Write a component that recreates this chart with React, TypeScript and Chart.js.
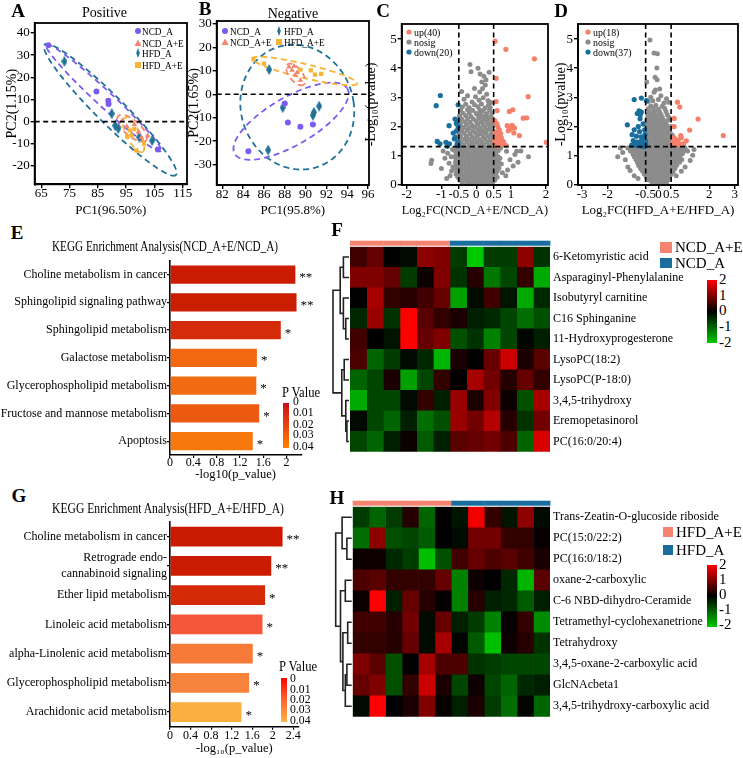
import React, { useEffect, useRef } from "react";
import { Chart, registerables } from "chart.js";

Chart.register(...registerables);

const SERIF = '"Liberation Serif", "Times New Roman", Times, serif';
Chart.defaults.font.family = SERIF;
Chart.defaults.color = "#000";

/* ============================ DATA ============================ */
// PCA positive (A)
const A_NCD = [[67.5, 34.5], [84.5, 13.6], [88.7, 9.4], [88.8, 7.9], [106.2, -12.6]];
const A_NCDE = [[93.6, 0.4], [95.2, -2.2], [97.9, -1.4], [99.3, -4.8], [100.4, -7.1], [102.6, -6.4]];
const A_HFD = [[73.2, 27.2], [89.9, 3.6], [91.1, -1.8], [92.2, -3.2], [99.6, -7.0], [104.2, -8.6]];
const A_HFDE = [[95.4, -6.8], [96.3, -4.0], [97.9, -3.4], [96.9, -6.2], [98.6, -13.0], [101.3, -10.0]];
// confidence ellipses: [cx, cy, ax, ay, bx, by]
const A_ELL_NCD = [87.05, 10.7, 20.3, -24.0, -1.9, -2.67];
const A_ELL_NCDE = [97.1, -3.0, 4.94, -5.43, -1.76, -2.71];
const A_ELL_HFD = [89.4, 5.3, 23.2, -29.4, -3.4, -4.5];
const A_ELL_HFDE = [97.6, -6.0, 3.18, -7.7, -2.1, -1.36];
const A_XTICKS = [65, 75, 85, 95, 105, 115];
const A_YTICKS = [-20, -10, 0, 10, 20, 30, 40];

// PCA negative (B)
const B_NCD = [[84.5, -24.3], [88.0, -4.0], [88.3, -12.1], [89.5, -13.9], [90.7, -12.9]];
const B_NCDE = [[88.4, 11.6], [88.7, 10.2], [89.0, 8.1], [89.5, 6.0], [88.9, 12.0], [89.2, 9.3]];
const B_HFD = [[86.5, 10.5], [87.8, -5.7], [90.8, -7.7], [90.7, -9.0], [91.3, -5.1], [86.4, -23.8]];
const B_HFDE = [[85.0, 14.8], [86.0, 13.0], [89.5, 10.5], [90.5, 10.2], [90.9, 8.3], [91.5, 8.7]];
const B_ELL_NCD = [88.6, -11.5, 5.41, 13.9, 1.16, -8.8];
const B_ELL_NCDE = [89.05, 8.4, 0.77, -4.3, -0.48, -1.7];
const B_ELL_HFD = [89.2, -5.5, 5.4, 2.5, 0.9, -26.5];
const B_ELL_HFDE = [89.9, 9.9, 5.04, -5.32, -0.15, -2.9];
const B_XTICKS = [82, 84, 86, 88, 90, 92, 94, 96];
const B_YTICKS = [-30, -20, -10, 0, 10, 20, 30];
const PCA_ZERO = [0];

// Volcano C (NCD_A+E / NCD_A)
const C_UP = [[0.54, 4.93], [0.85, 4.65], [1.67, 4.32], [0.57, 3.65], [1.49, 3.02], [0.57, 2.85], [1.05, 2.57], [0.95, 2.51], [1.35, 2.28], [1.45, 2.29], [0.6, 2.54], [0.59, 2.09], [0.89, 2.02], [1.03, 2.03], [1.1, 1.94], [0.66, 1.88], [0.92, 1.85], [1.08, 1.77], [1.24, 1.68], [0.59, 1.71], [0.66, 1.65], [0.6, 1.54], [0.69, 1.52], [0.64, 1.45], [0.81, 1.37], [0.55, 1.42], [2.01, 1.45], [0.72, 1.6], [0.56, 1.35], [0.75, 1.41], [0.63, 1.32], [0.98, 1.9], [0.7, 1.75], [0.55, 1.8], [0.53, 2.2], [0.62, 1.98], [0.78, 1.47], [0.86, 1.34], [0.58, 1.6], [0.53, 1.5]];
const C_DOWN = [[-1.03, 3.06], [-1.15, 2.71], [-0.52, 2.74], [-0.61, 2.25], [-0.55, 2.19], [-0.78, 2.02], [-0.52, 2.0], [-0.66, 1.77], [-0.63, 1.57], [-1.12, 1.48], [-1.04, 1.4], [-0.87, 1.45], [-0.77, 1.4], [-0.83, 1.31], [-0.53, 1.45], [-0.52, 1.33], [-0.57, 2.1], [-0.6, 1.62], [-0.55, 1.38], [-0.56, 1.85]];
const C_NOSIG = [
  [-0.18, 4.13], [-0.15, 3.88], [0.05, 4.0], [0.11, 3.8], [0.37, 3.86], [0.22, 3.72], [0.16, 3.52], [0.18, 3.3], [0.26, 3.42], [-0.42, 3.2], [0.1, 3.18], [0.3, 3.1], [-0.25, 3.05], [-0.02, 3.02], [0.2, 2.98], [-0.35, 2.93], [0.08, 2.9], [0.34, 2.88], [-0.12, 2.84], [0.42, 2.82], [-0.05, 3.3], [0.28, 3.6],
  [-0.3, 2.76], [-0.05, 2.74], [0.15, 2.77], [0.35, 2.72], [-0.4, 2.66], [-0.2, 2.64], [0.05, 2.67], [0.25, 2.63], [0.4, 2.65],
  [-0.45, 2.55], [-0.25, 2.57], [-0.1, 2.54], [0.1, 2.56], [0.2, 2.53], [0.38, 2.55], [-0.38, 2.45], [-0.2, 2.47], [0.0, 2.44], [0.12, 2.46], [0.3, 2.43], [0.45, 2.46],
  [-0.48, 2.35], [-0.3, 2.36], [-0.15, 2.34], [0.05, 2.37], [0.18, 2.34], [0.28, 2.36], [0.42, 2.33], [-0.42, 2.25], [-0.25, 2.26], [-0.08, 2.24], [0.08, 2.27], [0.22, 2.24], [0.35, 2.26], [0.48, 2.23],
  [-0.47, 2.15], [-0.33, 2.16], [-0.18, 2.14], [0.0, 2.17], [0.15, 2.14], [0.3, 2.16], [0.44, 2.13], [-0.45, 2.05], [-0.28, 2.06], [-0.12, 2.04], [0.04, 2.07], [0.2, 2.04], [0.35, 2.06], [0.48, 2.03],
  [-0.48, 1.95], [-0.35, 1.96], [-0.2, 1.94], [-0.05, 1.97], [0.1, 1.94], [0.25, 1.96], [0.4, 1.93], [-0.42, 1.85], [-0.26, 1.86], [-0.1, 1.84], [0.05, 1.87], [0.18, 1.84], [0.32, 1.86], [0.47, 1.83],
  [-0.5, 1.75], [-0.35, 1.76], [-0.18, 1.74], [-0.02, 1.77], [0.12, 1.74], [0.27, 1.76], [0.42, 1.73], [-0.45, 1.65], [-0.28, 1.66], [-0.12, 1.64], [0.03, 1.67], [0.2, 1.64], [0.35, 1.66], [0.49, 1.63],
  [-0.48, 1.55], [-0.33, 1.56], [-0.2, 1.54], [-0.05, 1.57], [0.1, 1.54], [0.25, 1.56], [0.4, 1.53], [-0.43, 1.45], [-0.27, 1.46], [-0.12, 1.44], [0.02, 1.47], [0.16, 1.44], [0.31, 1.46], [0.46, 1.43],
  [-0.49, 1.35], [-0.35, 1.36], [-0.2, 1.34], [-0.06, 1.37], [0.08, 1.34], [0.22, 1.36], [0.37, 1.33], [0.5, 1.36],
  [-0.56, 1.25], [-0.44, 1.26], [-0.31, 1.24], [-0.18, 1.26], [-0.05, 1.25], [0.08, 1.24], [0.2, 1.26], [0.33, 1.25], [0.46, 1.24], [0.58, 1.26],
  [-0.6, 1.15], [-0.48, 1.16], [-0.36, 1.14], [-0.23, 1.15], [-0.1, 1.16], [0.03, 1.14], [0.15, 1.15], [0.28, 1.16], [0.4, 1.14], [0.52, 1.15], [0.63, 1.16],
  [-0.57, 1.05], [-0.45, 1.04], [-0.32, 1.06], [-0.2, 1.05], [-0.07, 1.04], [0.06, 1.06], [0.18, 1.05], [0.31, 1.04], [0.44, 1.06], [0.56, 1.05],
  [-0.62, 0.95], [-0.5, 0.96], [-0.38, 0.94], [-0.25, 0.95], [-0.12, 0.96], [0.0, 0.94], [0.13, 0.95], [0.25, 0.96], [0.38, 0.94], [0.5, 0.95], [0.62, 0.96],
  [-0.58, 0.85], [-0.46, 0.84], [-0.33, 0.86], [-0.2, 0.85], [-0.08, 0.84], [0.05, 0.86], [0.18, 0.85], [0.3, 0.84], [0.43, 0.86], [0.56, 0.85],
  [-0.6, 0.75], [-0.48, 0.76], [-0.35, 0.74], [-0.22, 0.75], [-0.1, 0.76], [0.02, 0.74], [0.15, 0.75], [0.27, 0.76], [0.4, 0.74], [0.53, 0.75], [0.64, 0.76],
  [-0.57, 0.65], [-0.44, 0.64], [-0.31, 0.66], [-0.18, 0.65], [-0.06, 0.64], [0.07, 0.66], [0.2, 0.65], [0.33, 0.64], [0.46, 0.66], [0.58, 0.65],
  [-0.6, 0.55], [-0.47, 0.56], [-0.35, 0.54], [-0.22, 0.55], [-0.1, 0.56], [0.03, 0.54], [0.16, 0.55], [0.28, 0.56], [0.41, 0.54], [0.54, 0.55], [0.65, 0.56],
  [-0.56, 0.45], [-0.43, 0.44], [-0.3, 0.46], [-0.17, 0.45], [-0.05, 0.44], [0.08, 0.46], [0.21, 0.45], [0.34, 0.44], [0.47, 0.46], [0.6, 0.45],
  [-0.58, 0.35], [-0.46, 0.36], [-0.33, 0.34], [-0.2, 0.35], [-0.08, 0.36], [0.05, 0.34], [0.18, 0.35], [0.3, 0.36], [0.43, 0.34], [0.56, 0.35],
  [-0.53, 0.25], [-0.4, 0.24], [-0.27, 0.26], [-0.14, 0.25], [-0.02, 0.24], [0.1, 0.26], [0.23, 0.25], [0.36, 0.24], [0.49, 0.26], [0.6, 0.25],
  [-0.48, 0.15], [-0.36, 0.16], [-0.23, 0.14], [-0.1, 0.15], [0.02, 0.16], [0.15, 0.14], [0.28, 0.15], [0.4, 0.16], [0.53, 0.14],
  [-0.4, 0.06], [-0.27, 0.07], [-0.14, 0.05], [-0.02, 0.06], [0.1, 0.07], [0.22, 0.05], [0.35, 0.06], [0.47, 0.07],
  [-0.5, 1.2], [-0.25, 1.1], [0.1, 1.2], [0.35, 1.1], [-0.4, 0.9], [-0.15, 0.8], [0.2, 0.9], [0.45, 0.8], [-0.5, 0.6], [-0.25, 0.5], [0.1, 0.6], [0.35, 0.5], [-0.4, 0.3], [-0.1, 0.2], [0.25, 0.3], [0.5, 0.2],
  [-1.28, 0.83], [-1.3, 0.72], [-0.78, 0.73], [-0.82, 1.07], [-0.71, 0.46], [-0.9, 0.9], [-0.68, 1.2], [-0.75, 0.3], [-1.0, 0.55], [-0.72, 0.95], [-0.67, 0.6], [-0.95, 1.15], [-0.85, 0.2],
  [1.11, 1.03], [1.5, 0.95], [0.97, 0.85], [1.2, 0.76], [1.16, 1.14], [0.87, 1.14], [0.72, 0.7], [0.9, 0.5], [1.28, 1.15], [0.7, 1.25], [0.85, 0.3], [0.68, 0.9], [0.75, 0.4], [1.06, 0.63],
];
const C_XTICKS = [-2, -1, -0.5, 0, 0.5, 1, 2];
// Volcano D (HFD_A+E / HFD_A)
const D_UP = [[0.75, 2.83], [0.84, 2.66], [0.62, 2.27], [1.56, 2.25], [0.62, 1.99], [1.23, 1.87], [2.55, 1.68], [0.62, 1.6], [0.88, 1.68], [0.9, 1.6], [0.77, 1.53], [1.1, 1.5], [0.64, 1.42], [0.84, 1.4], [0.99, 1.4], [0.58, 1.5], [0.7, 1.35], [0.55, 1.38]];
const D_DOWN = [[-0.95, 2.92], [-0.67, 2.97], [-0.47, 2.88], [-0.76, 2.53], [-0.67, 2.49], [-0.83, 2.44], [-0.71, 2.4], [-1.22, 2.05], [-0.72, 2.26], [-0.6, 2.08], [-0.79, 1.99], [-0.95, 1.88], [-0.74, 1.82], [-0.54, 1.88], [-1.03, 1.71], [-0.86, 1.66], [-0.67, 1.64], [-0.53, 1.71], [-0.99, 1.51], [-0.83, 1.46], [-0.67, 1.5], [-0.55, 1.55], [-0.9, 1.39], [-0.76, 1.36], [-0.63, 1.38], [-0.5, 1.42], [-1.05, 1.35], [-0.7, 1.32], [-0.58, 1.33], [-0.52, 1.36], [-0.6, 1.45], [-0.85, 1.33], [-0.55, 1.3], [-0.66, 1.42], [-0.8, 1.4], [-0.62, 1.55], [-0.51, 1.5]];
const D_NOSIG = [
  [-0.33, 4.97], [-0.17, 4.52], [-0.04, 4.5], [-0.13, 3.69], [-0.06, 4.01], [-0.46, 3.52], [-0.12, 3.25], [-0.17, 3.17], [0.41, 2.83], [-0.05, 3.6], [0.05, 3.28], [-0.3, 3.0], [0.1, 3.05], [0.32, 2.95], [-0.22, 2.88], [0.22, 2.8], [-0.4, 2.85], [0.0, 2.92],
  [-0.3, 2.7], [-0.1, 2.72], [0.15, 2.69], [-0.4, 2.6], [-0.2, 2.62], [0.0, 2.59], [0.25, 2.61], [-0.35, 2.5], [-0.15, 2.52], [0.05, 2.49], [0.3, 2.51],
  [-0.42, 2.4], [-0.25, 2.42], [-0.08, 2.39], [0.1, 2.41], [0.35, 2.4], [-0.38, 2.3], [-0.2, 2.32], [-0.02, 2.29], [0.15, 2.31], [0.42, 2.3],
  [-0.45, 2.2], [-0.28, 2.22], [-0.12, 2.19], [0.05, 2.21], [0.22, 2.2], [0.4, 2.22], [-0.4, 2.1], [-0.22, 2.12], [-0.05, 2.09], [0.12, 2.11], [0.3, 2.1],
  [-0.45, 2.0], [-0.3, 2.02], [-0.15, 1.99], [0.0, 2.01], [0.17, 2.0], [0.33, 2.02], [0.5, 1.99], [-0.42, 1.9], [-0.26, 1.92], [-0.1, 1.89], [0.07, 1.91], [0.23, 1.9], [0.4, 1.92],
  [-0.48, 1.8], [-0.32, 1.82], [-0.17, 1.79], [-0.02, 1.81], [0.14, 1.8], [0.3, 1.82], [0.46, 1.79], [-0.44, 1.7], [-0.28, 1.72], [-0.12, 1.69], [0.04, 1.71], [0.2, 1.7], [0.36, 1.72], [0.55, 1.69],
  [-0.47, 1.6], [-0.32, 1.62], [-0.17, 1.59], [-0.01, 1.61], [0.15, 1.6], [0.31, 1.62], [0.47, 1.59], [-0.5, 1.5], [-0.35, 1.52], [-0.2, 1.49], [-0.05, 1.51], [0.1, 1.5], [0.26, 1.52], [0.42, 1.49], [0.56, 1.51],
  [-0.46, 1.4], [-0.3, 1.42], [-0.15, 1.39], [0.0, 1.41], [0.16, 1.4], [0.32, 1.42], [0.48, 1.39], [-0.52, 1.33], [-0.38, 1.34], [-0.22, 1.32], [-0.07, 1.34], [0.08, 1.33], [0.24, 1.34], [0.4, 1.32], [0.55, 1.34],
  [-1.2, 1.25], [-1.05, 1.26], [-0.9, 1.24], [-0.75, 1.25], [-0.6, 1.26], [-0.45, 1.24], [-0.3, 1.25], [-0.15, 1.26], [0.0, 1.24], [0.15, 1.25], [0.3, 1.26], [0.45, 1.24], [0.6, 1.25], [0.75, 1.26], [0.9, 1.24], [1.05, 1.25],
  [-1.1, 1.15], [-0.95, 1.14], [-0.8, 1.16], [-0.65, 1.15], [-0.5, 1.14], [-0.35, 1.16], [-0.2, 1.15], [-0.05, 1.14], [0.1, 1.16], [0.25, 1.15], [0.4, 1.14], [0.55, 1.16], [0.7, 1.15], [0.85, 1.14], [1.0, 1.16],
  [-1.0, 1.05], [-0.85, 1.06], [-0.7, 1.04], [-0.55, 1.05], [-0.4, 1.06], [-0.25, 1.04], [-0.1, 1.05], [0.05, 1.06], [0.2, 1.04], [0.35, 1.05], [0.5, 1.06], [0.65, 1.04], [0.8, 1.05], [0.95, 1.06],
  [-0.95, 0.95], [-0.8, 0.94], [-0.65, 0.96], [-0.5, 0.95], [-0.35, 0.94], [-0.2, 0.96], [-0.05, 0.95], [0.1, 0.94], [0.25, 0.96], [0.4, 0.95], [0.55, 0.94], [0.7, 0.96], [0.85, 0.95],
  [-0.88, 0.85], [-0.73, 0.86], [-0.58, 0.84], [-0.43, 0.85], [-0.28, 0.86], [-0.13, 0.84], [0.02, 0.85], [0.17, 0.86], [0.32, 0.84], [0.47, 0.85], [0.62, 0.86], [0.77, 0.84], [0.92, 0.85],
  [-0.82, 0.75], [-0.67, 0.74], [-0.52, 0.76], [-0.37, 0.75], [-0.22, 0.74], [-0.07, 0.76], [0.08, 0.75], [0.23, 0.74], [0.38, 0.76], [0.53, 0.75], [0.68, 0.74], [0.83, 0.76],
  [-0.78, 0.65], [-0.63, 0.66], [-0.48, 0.64], [-0.33, 0.65], [-0.18, 0.66], [-0.03, 0.64], [0.12, 0.65], [0.27, 0.66], [0.42, 0.64], [0.57, 0.65], [0.72, 0.66],
  [-0.7, 0.55], [-0.55, 0.54], [-0.4, 0.56], [-0.25, 0.55], [-0.1, 0.54], [0.05, 0.56], [0.2, 0.55], [0.35, 0.54], [0.5, 0.56], [0.65, 0.55],
  [-0.62, 0.45], [-0.47, 0.46], [-0.32, 0.44], [-0.17, 0.45], [-0.02, 0.46], [0.13, 0.44], [0.28, 0.45], [0.43, 0.46], [0.58, 0.44],
  [-0.55, 0.35], [-0.4, 0.34], [-0.25, 0.36], [-0.1, 0.35], [0.05, 0.34], [0.2, 0.36], [0.35, 0.35], [0.5, 0.34],
  [-0.47, 0.25], [-0.32, 0.26], [-0.17, 0.24], [-0.02, 0.25], [0.13, 0.26], [0.28, 0.24], [0.43, 0.25],
  [-0.38, 0.15], [-0.23, 0.14], [-0.08, 0.16], [0.07, 0.15], [0.22, 0.14], [0.37, 0.16], [-0.25, 0.06], [-0.1, 0.07], [0.05, 0.05], [0.2, 0.06], [0.32, 0.07],
  [-0.6, 1.2], [-0.2, 1.1], [0.2, 1.2], [0.6, 1.1], [-0.5, 0.9], [-0.1, 0.8], [0.3, 0.9], [-0.4, 0.6], [0.0, 0.5], [0.4, 0.6], [-0.3, 0.3], [0.1, 0.2],
  [-1.11, 0.48], [1.25, 0.82], [1.35, 1.0], [-1.4, 1.1], [-1.3, 0.85], [1.15, 1.15], [-0.95, 0.3], [0.9, 0.45], [1.05, 0.6], [-1.2, 0.6], [-1.5, 1.25], [1.4, 1.2], [0.7, 0.3], [-0.8, 0.2], [-1.6, 0.95],
];
const D_XTICKS = [-3, -2, -0.5, 0, 0.5, 2, 3];
const VOLC_YTICKS = [0, 1, 2, 3, 4, 5];
const FC_CUT = [-0.5, 0.5];
const P_CUT = [1.3];

// KEGG E
const E_LABELS = ["Choline metabolism in cancer", "Sphingolipid signaling pathway", "Sphingolipid metabolism", "Galactose metabolism", "Glycerophospholipid metabolism", "Fructose and mannose metabolism", "Apoptosis"];
const E_VALUES = [2.15, 2.17, 1.9, 1.49, 1.48, 1.53, 1.42];
const E_STARS = ["**", "**", "*", "*", "*", "*", "*"];
const E_XTICKS = [0, 0.4, 0.8, 1.2, 1.6, 2];
// KEGG G
const G_LABELS = ["Choline metabolism in cancer", ["Retrograde endo-", "cannabinoid signaling"], "Ether lipid metabolism", "Linoleic acid metabolism", "alpha-Linolenic acid metabolism", "Glycerophospholipid metabolism", "Arachidonic acid metabolism"];
const G_VALUES = [2.19, 1.97, 1.85, 1.8, 1.61, 1.54, 1.39];
const G_STARS = ["**", "**", "*", "*", "*", "*", "*"];
const G_XTICKS = [0, 0.4, 0.8, 1.2, 1.6, 2, 2.4];
const P_TICKS = ["0", "0.01", "0.02", "0.03", "0.04"];

// Heatmap F
const F_ROWS = ["6-Ketomyristic acid", "Asparaginyl-Phenylalanine", "Isobutyryl carnitine", "C16 Sphinganine", "11-Hydroxyprogesterone", "LysoPC(18:2)", "LysoPC(P-18:0)", "3,4,5-trihydroxy", "Eremopetasinorol", "PC(16:0/20:4)"];
const F_GROUPS = ["NCD_A+E", "NCD_A+E", "NCD_A+E", "NCD_A+E", "NCD_A+E", "NCD_A+E", "NCD_A", "NCD_A", "NCD_A", "NCD_A", "NCD_A", "NCD_A"];
const F_VALUES = [
  [0.5, 0.8, 0.0, -0.1, 1.1, 1.0, -0.6, -2.0, -0.6, -0.6, 1.1, -0.5],
  [1.0, 1.0, 0.8, -0.6, 0.1, 1.0, -0.5, 0.3, -1.2, -0.7, 0.4, -1.7],
  [0.0, 1.3, 0.4, 0.3, 0.5, 0.8, -1.6, -0.1, 0.5, -0.2, -1.7, -0.4],
  [-0.4, 1.2, -0.5, 2.0, 0.7, 0.4, 0.2, -0.3, -0.4, -0.7, -1.1, -0.8],
  [0.5, 0.0, -0.2, 2.0, 0.8, 1.0, -0.8, -0.5, -1.3, -0.7, -0.05, -0.3],
  [0.6, -1.0, -0.6, -0.1, -0.4, -1.8, 0.2, 0.0, 0.8, 1.6, 0.2, 0.7],
  [-1.0, -0.7, 0.2, -1.6, -0.7, 0.4, 0.0, 1.3, 0.9, 0.3, 0.8, 0.4],
  [-1.7, -0.7, -0.7, -0.1, 0.4, -0.3, 1.2, 0.2, 1.0, 0.1, -0.8, 1.3],
  [-0.1, -0.7, -1.0, -0.3, -1.1, -0.8, 1.2, 0.9, 1.4, 0.3, -0.5, 0.9],
  [-0.7, -1.0, -0.3, 0.1, -0.9, -0.3, 0.7, 0.8, 0.9, 0.6, -1.0, 1.7],
];
// dendrogram merges [a, b, height]; ids >= 10 refer to earlier merges
const F_MERGES = [[3, 4, 0.2], [8, 9, 0.13], [0, 1, 0.35], [2, 10, 0.35], [5, 6, 0.3], [7, 11, 0.2], [12, 13, 0.55], [14, 15, 0.45], [16, 17, 1.0]];

// Heatmap H
const H_ROWS = ["Trans-Zeatin-O-glucoside riboside", "PC(15:0/22:2)", "PC(16:0/18:2)", "oxane-2-carboxylic", "C-6 NBD-dihydro-Ceramide", "Tetramethyl-cyclohexanetrione", "Tetrahydroxy", "3,4,5-oxane-2-carboxylic acid", "GlcNAcbeta1", "3,4,5-trihydroxy-carboxylic acid"];
const H_GROUPS = ["HFD_A+E", "HFD_A+E", "HFD_A+E", "HFD_A+E", "HFD_A+E", "HFD_A+E", "HFD_A", "HFD_A", "HFD_A", "HFD_A", "HFD_A", "HFD_A"];
const H_VALUES = [
  [-0.6, -1.0, -0.6, 0.3, -1.0, 0.0, -0.2, 1.9, 0.4, -0.2, 1.1, -0.1],
  [-1.1, 1.1, -0.8, -0.7, -0.9, 0.0, -0.1, 0.9, 0.9, 0.4, 0.4, 0.05],
  [0.1, 0.1, -0.4, -0.6, -1.9, -0.8, 0.5, 0.8, 0.6, 0.7, 0.5, 0.2],
  [0.6, 0.7, 0.4, 0.4, 0.4, 0.8, -1.3, 0.1, 0.0, -0.4, -1.8, 0.7],
  [0.1, 2.0, -0.3, 0.8, 0.3, 0.05, -1.3, 0.3, -0.3, -0.4, -0.9, -0.3],
  [0.5, 0.5, 0.3, 0.9, -0.1, 0.8, -0.3, -0.6, -1.3, 0.05, 0.4, -1.4],
  [0.4, 0.4, 0.3, 0.8, -0.1, 1.3, -0.05, -0.9, -1.9, 0.1, 0.3, -0.5],
  [1.0, 0.7, -0.8, 0.0, 1.3, 0.6, 0.6, -0.5, -0.6, -0.7, -0.7, -0.7],
  [0.8, 1.0, -0.8, 0.4, 1.6, 0.2, -0.7, 0.1, -0.7, -1.0, -0.4, -0.3],
  [-0.1, 2.0, 0.0, 0.2, 1.0, 0.05, -0.3, 0.2, -0.6, -1.1, -0.05, -1.0],
];
const H_MERGES = [[1, 2, 0.3], [0, 10, 0.6], [3, 4, 0.4], [5, 6, 0.25], [7, 8, 0.3], [9, 14, 0.4], [13, 15, 0.55], [12, 16, 0.7], [11, 17, 1.0]];
const HEAT_TICKS = ["2", "1", "0", "-1", "-2"];

/* ============================ STYLE ============================ */
const COL_NCD = "#7c5cf0";
const COL_NCDE = "#f4836f";
const COL_HFD = "#1f7397";
const COL_HFDE = "#f8b234";
const COL_UP = "#f4806a";
const COL_NOSIG = "#8c8c8c";
const COL_DOWN = "#1a6e9e";
const GROUP_COL: Record<string, string> = { "NCD_A+E": "#f4836f", NCD_A: "#1a6e9e", "HFD_A+E": "#f4836f", HFD_A: "#1a6e9e" };
const E_COLORS = ["#c91c00", "#cb1d00", "#d42c08", "#f26912", "#f26a12", "#ec5a12", "#f7790e"];
const G_COLORS = ["#c91a00", "#cb1b00", "#d42a06", "#f5573a", "#f77a38", "#f8833c", "#fbaf3e"];

function heatColor(v: number) {
  const t = Math.max(-2, Math.min(2, v)) / 2;
  if (t >= 0) return `rgb(${Math.round(255 * t)},0,0)`;
  return `rgb(0,${Math.round(200 * -t)},0)`;
}

/* ============================ PLUGINS ============================ */
const framePlugin = {
  id: "frame",
  afterDraw(chart: any) {
    const { ctx, chartArea: a } = chart;
    ctx.save();
    ctx.strokeStyle = "#000";
    ctx.lineWidth = 1.8;
    ctx.strokeRect(a.left, a.top, a.right - a.left, a.bottom - a.top);
    ctx.restore();
  },
};

const ellipsePlugin = (ells: { e: number[]; color: string }[]) => ({
  id: "ellipses",
  beforeDatasetsDraw(chart: any) {
    const { ctx, chartArea: a, scales } = chart;
    const sx = scales.x, sy = scales.y;
    ctx.save();
    ctx.beginPath();
    ctx.rect(a.left, a.top, a.right - a.left, a.bottom - a.top);
    ctx.clip();
    ctx.setLineDash([6, 4]);
    ctx.lineWidth = 1.8;
    for (const { e, color } of ells) {
      const [cx, cy, ax, ay, bx, by] = e;
      ctx.strokeStyle = color;
      ctx.beginPath();
      for (let i = 0; i <= 160; i++) {
        const t = (i / 160) * Math.PI * 2;
        const px = sx.getPixelForValue(cx + ax * Math.cos(t) + bx * Math.sin(t));
        const py = sy.getPixelForValue(cy + ay * Math.cos(t) + by * Math.sin(t));
        if (i === 0) ctx.moveTo(px, py);
        else ctx.lineTo(px, py);
      }
      ctx.stroke();
    }
    ctx.restore();
  },
});

const refLinesPlugin = (hl: number[], vl: number[]) => ({
  id: "refLines",
  afterDatasetsDraw(chart: any) {
    const { ctx, chartArea: a, scales } = chart;
    ctx.save();
    ctx.strokeStyle = "#000";
    ctx.lineWidth = 1.6;
    ctx.setLineDash([5, 3.5]);
    for (const v of hl) {
      const y = scales.y.getPixelForValue(v);
      ctx.beginPath();
      ctx.moveTo(a.left, y);
      ctx.lineTo(a.right, y);
      ctx.stroke();
    }
    for (const v of vl) {
      const x = scales.x.getPixelForValue(v);
      ctx.beginPath();
      ctx.moveTo(x, a.top);
      ctx.lineTo(x, a.bottom);
      ctx.stroke();
    }
    ctx.restore();
  },
});

const starsPlugin = (stars: string[]) => ({
  id: "stars",
  afterDatasetsDraw(chart: any) {
    const { ctx } = chart;
    const meta = chart.getDatasetMeta(0);
    ctx.save();
    ctx.fillStyle = "#000";
    ctx.font = `13px ${SERIF}`;
    ctx.textBaseline = "middle";
    meta.data.forEach((bar: any, i: number) => ctx.fillText(stars[i], bar.x + 4, bar.y + 3));
    ctx.restore();
  },
});

const heatDecorPlugin = (groups: string[], merges: number[][], depth: number) => ({
  id: "heatDecor",
  afterDraw(chart: any) {
    const { ctx, chartArea: a, scales } = chart;
    const sx = scales.x, sy = scales.y;
    ctx.save();
    groups.forEach((g, j) => {
      const x0 = sx.getPixelForValue(j);
      const x1 = sx.getPixelForValue(j + 1);
      ctx.fillStyle = GROUP_COL[g];
      ctx.fillRect(x0, a.top - 6, x1 - x0 + 0.4, 5);
    });
    const n = chart.data.labels.length;
    const nodes: { y: number; h: number }[] = [];
    for (let i = 0; i < n; i++) nodes.push({ y: sy.getPixelForValue(i), h: 0 });
    const hx = (h: number) => a.left - 1 - h * depth;
    ctx.strokeStyle = "#222";
    ctx.lineWidth = 1.6;
    for (const [ia, ib, h] of merges) {
      const A = nodes[ia], B = nodes[ib];
      const x = hx(h);
      ctx.beginPath();
      ctx.moveTo(hx(A.h), A.y);
      ctx.lineTo(x, A.y);
      ctx.lineTo(x, B.y);
      ctx.lineTo(hx(B.h), B.y);
      ctx.stroke();
      nodes.push({ y: (A.y + B.y) / 2, h });
    }
    ctx.restore();
  },
});

/* ============================ CONFIG BUILDERS ============================ */
const pts = (d: number[][]) => d.map(([x, y]) => ({ x, y }));

function thinDiamond(color: string) {
  const c = document.createElement("canvas");
  c.width = 6;
  c.height = 11;
  const g = c.getContext("2d")!;
  g.fillStyle = color;
  g.beginPath();
  g.moveTo(3, 0);
  g.lineTo(6, 5.5);
  g.lineTo(3, 11);
  g.lineTo(0, 5.5);
  g.closePath();
  g.fill();
  return c;
}

function linAxis(p: any, isX: boolean) {
  const ticks: number[] = isX ? p.xt : p.yt;
  const range: number[] = isX ? p.x : p.y;
  return {
    type: "linear",
    position: isX ? "bottom" : "left",
    min: range[0],
    max: range[1],
    bounds: "data",
    afterBuildTicks: (s: any) => {
      s.ticks = ticks.map((v) => ({ value: v }));
    },
    afterFit: (s: any) => {
      if (isX) s.height = p.xh;
      else s.width = p.yw;
    },
    grid: { display: true, drawOnChartArea: false, drawTicks: true, tickLength: 4, color: "#000", lineWidth: 1.4 },
    border: { display: true, color: "#000", width: 1.8 },
    ticks: {
      autoSkip: false, maxRotation: 0, minRotation: 0, padding: isX ? -1 : 1, color: "#000",
      font: { family: SERIF, size: 13, lineHeight: 1 },
      callback: (v: number) => String(v),
    },
    title: {
      display: true, text: isX ? p.xTitle : p.yTitle, color: "#000",
      font: { family: SERIF, size: isX ? 13 : p.yTitleSize },
      padding: isX ? { top: 0, bottom: 0 } : { top: p.yTitlePad, bottom: 0 },
    },
  };
}

function scatterCfg(p: any) {
  return {
    type: "scatter",
    data: { datasets: p.datasets },
    options: {
      responsive: false, animation: false, devicePixelRatio: 1, events: [],
      layout: { padding: { left: 0, top: 10, right: p.pr, bottom: 0 } },
      plugins: { legend: { display: false }, tooltip: { enabled: false } },
      scales: { x: linAxis(p, true), y: linAxis(p, false) },
    },
    plugins: [ellipsePlugin(p.ells || []), refLinesPlugin(p.hl || [], p.vl || []), framePlugin],
  };
}

const dset = (d: number[][], color: any, style: any, r: number, order = 0) => ({
  data: pts(d), backgroundColor: color, borderWidth: 0, pointStyle: style, pointRadius: r, order,
});

function barCfg(p: any) {
  return {
    type: "bar",
    data: {
      labels: p.labels,
      datasets: [{ data: p.values, backgroundColor: p.colors, borderWidth: 0, barPercentage: p.bp, categoryPercentage: 1 }],
    },
    options: {
      indexAxis: "y", responsive: false, animation: false, devicePixelRatio: 1, events: [],
      layout: { padding: { left: 0, top: p.pt, right: p.pr, bottom: 0 } },
      plugins: { legend: { display: false }, tooltip: { enabled: false } },
      scales: {
        x: {
          type: "linear", min: 0, max: p.max, bounds: "data",
          afterBuildTicks: (s: any) => { s.ticks = p.xt.map((v: number) => ({ value: v })); },
          afterFit: (s: any) => { s.height = p.xh; },
          grid: { display: true, drawOnChartArea: false, drawTicks: true, tickLength: 3, color: "#000", lineWidth: 1.2 },
          border: { display: true, color: "#000", width: 1.6 },
          ticks: { autoSkip: false, maxRotation: 0, padding: p.tickPad, color: "#000", font: { family: SERIF, size: 12, lineHeight: 1 }, callback: (v: number) => String(v) },
          title: { display: true, text: p.xTitle, color: "#000", font: { family: SERIF, size: 12.5 }, padding: { top: 0, bottom: 0 } },
        },
        y: {
          type: "category",
          afterFit: (s: any) => { s.width = p.yw; },
          grid: { display: true, offset: false, drawOnChartArea: false, drawTicks: true, tickLength: 3, color: "#000", lineWidth: 1.2 },
          border: { display: true, color: "#000", width: 1.6 },
          ticks: { autoSkip: false, padding: 0, color: "#000", font: { family: SERIF, size: 12, lineHeight: 1.4 } },
        },
      },
    },
    plugins: [starsPlugin(p.stars)],
  };
}

function heatCfg(p: any) {
  const rows: string[] = p.rows;
  const values: number[][] = p.values;
  const nCol = values[0].length;
  return {
    type: "bar",
    data: {
      labels: rows,
      datasets: values[0].map((_, j) => ({
        data: rows.map(() => 1),
        backgroundColor: values.map((r) => heatColor(r[j])),
        borderWidth: 0, barPercentage: 1, categoryPercentage: 1,
      })),
    },
    options: {
      indexAxis: "y", responsive: false, animation: false, devicePixelRatio: 1, events: [],
      layout: { padding: { left: p.pl, top: p.pt, right: 0, bottom: p.pb } },
      plugins: { legend: { display: false }, tooltip: { enabled: false } },
      scales: {
        x: { type: "linear", stacked: true, display: false, min: 0, max: nCol },
        y: {
          type: "category", stacked: true, position: "right",
          afterFit: (s: any) => { s.width = p.yw; },
          grid: { display: false, drawTicks: false },
          border: { display: false },
          ticks: { autoSkip: false, padding: 3, color: "#000", font: { family: SERIF, size: 12 } },
        },
      },
    },
    plugins: [heatDecorPlugin(p.groups, p.merges, 16)],
  };
}

/* ============================ COMPONENTS ============================ */
function ChartCanvas({ x, y, w, h, make }: any) {
  const ref = useRef<HTMLCanvasElement>(null);
  useEffect(() => {
    const chart = new Chart(ref.current as HTMLCanvasElement, make());
    return () => chart.destroy();
  }, []);
  return <canvas ref={ref} width={w} height={h} style={{ position: "absolute", left: x, top: y, width: w, height: h }} />;
}

function Txt({ x, y, s = 13, al = "l", bold = false, sx = 1, children }: any) {
  const tx = al === "c" ? "-50%" : al === "r" ? "-100%" : "0";
  return (
    <div
      style={{
        position: "absolute", left: x, top: y, fontFamily: SERIF, fontSize: s, fontWeight: bold ? 700 : 400,
        lineHeight: 1, whiteSpace: "nowrap", color: "#000",
        transformOrigin: al === "c" ? "center" : al === "r" ? "right" : "left",
        transform: `translate(${tx}, -50%) scaleX(${sx})`,
      }}
    >
      {children}
    </div>
  );
}

function Mk({ x, y, shape, color, r = 3 }: any) {
  return (
    <svg style={{ position: "absolute", left: x - 6, top: y - 6 }} width={12} height={12}>
      {shape === "circle" && <circle cx={6} cy={6} r={r} fill={color} />}
      {shape === "tri" && <polygon points={`6,${6 - r - 0.5} ${6 + r + 0.5},${6 + r} ${6 - r - 0.5},${6 + r}`} fill={color} />}
      {shape === "dia" && <polygon points={`6,${6 - r - 2} ${6 + r * 0.6},6 6,${6 + r + 2} ${6 - r * 0.6},6`} fill={color} />}
      {shape === "sq" && <rect x={6 - r} y={6 - r} width={2 * r} height={2 * r} fill={color} />}
    </svg>
  );
}

function Box({ x, y, w, h, bg }: any) {
  return <div style={{ position: "absolute", left: x, top: y, width: w, height: h, background: bg }} />;
}

export default function App() {
  const makeA = () =>
    scatterCfg({
      datasets: [
        dset(A_NCD, COL_NCD, "circle", 3),
        dset(A_NCDE, COL_NCDE, "triangle", 3.2),
        dset(A_HFD, COL_HFD, thinDiamond(COL_HFD), 3),
        dset(A_HFDE, COL_HFDE, "rect", 3),
      ],
      x: [62.7, 116.5], y: [-28.3, 44.5], xt: A_XTICKS, yt: A_YTICKS,
      xTitle: "PC1(96.50%)", yTitle: "PC2(1.15%)", yw: 34.7, xh: 33.7, pr: 10, yTitlePad: 4.2, yTitleSize: 14,
      ells: [
        { e: A_ELL_HFD, color: COL_HFD }, { e: A_ELL_NCD, color: COL_NCD },
        { e: A_ELL_NCDE, color: COL_NCDE }, { e: A_ELL_HFDE, color: COL_HFDE },
      ],
      hl: PCA_ZERO,
    });
  const makeB = () =>
    scatterCfg({
      datasets: [
        dset(B_NCD, COL_NCD, "circle", 3),
        dset(B_NCDE, COL_NCDE, "triangle", 3.2),
        dset(B_HFD, COL_HFD, thinDiamond(COL_HFD), 3),
        dset(B_HFDE, COL_HFDE, "rect", 3),
      ],
      x: [81.46, 96.09], y: [-38.7, 31.2], xt: B_XTICKS, yt: B_YTICKS,
      xTitle: "PC1(95.8%)", yTitle: "PC2(1.65%)", yw: 33.7, xh: 33, pr: 10, yTitlePad: 2.8, yTitleSize: 14,
      ells: [
        { e: B_ELL_HFD, color: COL_HFD }, { e: B_ELL_NCD, color: COL_NCD },
        { e: B_ELL_HFDE, color: COL_HFDE }, { e: B_ELL_NCDE, color: COL_NCDE },
      ],
      hl: PCA_ZERO,
    });
  const makeC = () =>
    scatterCfg({
      datasets: [
        dset(C_UP, COL_UP, "circle", 2.6),
        dset(C_DOWN, COL_DOWN, "circle", 2.6),
        dset(C_NOSIG, COL_NOSIG, "circle", 2.5, 1),
      ],
      x: [-2.14, 2.06], y: [-0.02, 5.52], xt: C_XTICKS, yt: VOLC_YTICKS,
      xTitle: "Log\u2082FC(NCD_A+E/NCD_A)", yTitle: "-Log\u2081\u2080(pvalue)", yw: 39.7, xh: 33, pr: 10, yTitlePad: 1.3, yTitleSize: 14,
      hl: P_CUT, vl: FC_CUT,
    });
  const makeD = () =>
    scatterCfg({
      datasets: [
        dset(D_UP, COL_UP, "circle", 2.6),
        dset(D_DOWN, COL_DOWN, "circle", 2.6),
        dset(D_NOSIG, COL_NOSIG, "circle", 2.5, 1),
      ],
      x: [-3.16, 3.13], y: [-0.02, 5.52], xt: D_XTICKS, yt: VOLC_YTICKS,
      xTitle: "Log\u2082FC(HFD_A+E/HFD_A)", yTitle: "-Log\u2081\u2080(pvalue)", yw: 38, xh: 33, pr: 5, yTitlePad: 13.3, yTitleSize: 14,
      hl: P_CUT, vl: FC_CUT,
    });
  const makeE = () =>
    barCfg({
      labels: E_LABELS, values: E_VALUES, colors: E_COLORS, stars: E_STARS, xt: E_XTICKS, max: 2.25,
      xTitle: "-log10(p_value)", yw: 170, xh: 27, pt: 10.7, pr: 18.8, bp: 0.66, tickPad: -1,
    });
  const makeG = () =>
    barCfg({
      labels: G_LABELS, values: G_VALUES, colors: G_COLORS, stars: G_STARS, xt: G_XTICKS, max: 2.5,
      xTitle: "-log\u2081\u2080(p_value)", yw: 170, xh: 29.3, pt: 10, pr: 21.5, bp: 0.68, tickPad: 0,
    });
  const makeF = () => heatCfg({ rows: F_ROWS, values: F_VALUES, groups: F_GROUPS, merges: F_MERGES, yw: 140, pl: 20, pt: 10.7, pb: 2 });
  const makeH = () => heatCfg({ rows: H_ROWS, values: H_VALUES, groups: H_GROUPS, merges: H_MERGES, yw: 193, pl: 22.7, pt: 10.7, pb: 2 });

  const pLabelsE = [400, 411, 422.7, 433.3, 445];
  const pLabelsG = [676.7, 687.7, 697.7, 708.3, 719.3];
  const heatLabF = [279, 295, 310, 326, 342];
  const heatLabH = [564.3, 579, 594, 609, 624.3];

  return (
    <div style={{ position: "absolute", left: 0, top: 0, width: 743, height: 758, background: "#fff", overflow: "hidden" }}>
      <ChartCanvas x={0} y={13} w={197} h={205} make={makeA} />
      <ChartCanvas x={183} y={10.7} w={196} h={207.3} make={makeB} />
      <ChartCanvas x={362} y={14} w={196} h={204} make={makeC} />
      <ChartCanvas x={540} y={14} w={203} h={204} make={makeD} />
      <ChartCanvas x={0} y={250} w={320} h={232} make={makeE} />
      <ChartCanvas x={0} y={512} w={320} h={244} make={makeG} />
      <ChartCanvas x={330} y={236} w={360} h={226} make={makeF} />
      <ChartCanvas x={330} y={496} w={413} h={231} make={makeH} />

      {/* panel letters */}
      <Txt x={18} y={10} s={19} al="c" bold>A</Txt>
      <Txt x={205} y={8} s={19} al="c" bold>B</Txt>
      <Txt x={383} y={10} s={19} al="c" bold>C</Txt>
      <Txt x={561} y={10} s={19} al="c" bold>D</Txt>
      <Txt x={17} y={232} s={19} al="c" bold>E</Txt>
      <Txt x={337} y={229} s={19} al="c" bold>F</Txt>
      <Txt x={19} y={495} s={19} al="c" bold>G</Txt>
      <Txt x={337} y={497} s={19} al="c" bold>H</Txt>

      {/* PCA titles + legends */}
      <Txt x={104.5} y={13} s={14} al="c">Positive</Txt>
      <Txt x={293} y={14} s={14} al="c">Negative</Txt>
      <Mk x={138.3} y={30.7} shape="circle" color={COL_NCD} />
      <Txt x={141.7} y={30.7} s={11} sx={0.84}>NCD_A</Txt>
      <Mk x={138.3} y={42.7} shape="tri" color={COL_NCDE} />
      <Txt x={141.7} y={42.7} s={11} sx={0.84}>NCD_A+E</Txt>
      <Mk x={138.3} y={53.3} shape="dia" color={COL_HFD} />
      <Txt x={141.7} y={53.3} s={11} sx={0.84}>HFD_A</Txt>
      <Mk x={138.3} y={65} shape="sq" color={COL_HFDE} />
      <Txt x={141.7} y={65} s={11} sx={0.84}>HFD_A+E</Txt>

      <Mk x={225} y={30.7} shape="circle" color={COL_NCD} />
      <Txt x={230} y={30.7} s={11} sx={0.84}>NCD_A</Txt>
      <Mk x={225} y={41.7} shape="tri" color={COL_NCDE} />
      <Txt x={230} y={41.7} s={11} sx={0.84}>NCD_A+E</Txt>
      <Mk x={279.3} y={30.7} shape="dia" color={COL_HFD} />
      <Txt x={284} y={30.7} s={11} sx={0.84}>HFD_A</Txt>
      <Mk x={279.3} y={41.7} shape="sq" color={COL_HFDE} />
      <Txt x={284} y={41.7} s={11} sx={0.84}>HFD_A+E</Txt>

      {/* volcano legends */}
      <Mk x={409.3} y={31.7} shape="circle" color={COL_UP} r={2.6} />
      <Txt x={414.3} y={31.7} s={11} sx={0.9}>up(40)</Txt>
      <Mk x={409.3} y={41.7} shape="circle" color={COL_NOSIG} r={2.6} />
      <Txt x={414.3} y={41.7} s={11} sx={0.9}>nosig</Txt>
      <Mk x={409.3} y={51.7} shape="circle" color={COL_DOWN} r={2.6} />
      <Txt x={414.3} y={51.7} s={11} sx={0.9}>down(20)</Txt>
      <Mk x={588.3} y={31.7} shape="circle" color={COL_UP} r={2.6} />
      <Txt x={592.7} y={31.7} s={11} sx={0.9}>up(18)</Txt>
      <Mk x={588.3} y={41.7} shape="circle" color={COL_NOSIG} r={2.6} />
      <Txt x={592.7} y={41.7} s={11} sx={0.9}>nosig</Txt>
      <Mk x={588.3} y={51.7} shape="circle" color={COL_DOWN} r={2.6} />
      <Txt x={592.7} y={51.7} s={11} sx={0.9}>down(37)</Txt>

      {/* KEGG titles */}
      <Txt x={165} y={247} s={14} al="c" sx={0.8}>KEGG Enrichment Analysis(NCD_A+E/NCD_A)</Txt>
      <Txt x={168} y={509} s={14} al="c" sx={0.83}>KEGG Enrichment Analysis(HFD_A+E/HFD_A)</Txt>

      {/* P value legends */}
      <Txt x={300.7} y={393} s={14} al="c" sx={0.9}>P Value</Txt>
      <Box x={283.3} y={403.3} w={5.4} h={45} bg="linear-gradient(to bottom, #c8101a, #e64010 45%, #ff8000)" />
      {P_TICKS.map((t, i) => (
        <Txt key={"pe" + i} x={292.7} y={pLabelsE[i]} s={13} sx={0.9}>{t}</Txt>
      ))}
      <Txt x={297.5} y={666.7} s={14} al="c" sx={0.9}>P Value</Txt>
      <Box x={281} y={678.3} w={6.3} h={44} bg="linear-gradient(to bottom, #ff0000, #ff5a2a 45%, #ffb347)" />
      {P_TICKS.map((t, i) => (
        <Txt key={"pg" + i} x={290} y={pLabelsG[i]} s={13} sx={0.9}>{t}</Txt>
      ))}

      {/* heatmap legends */}
      <Box x={660} y={241.7} w={12} h={11.3} bg={GROUP_COL["NCD_A+E"]} />
      <Txt x={675} y={247} s={15}>NCD_A+E</Txt>
      <Box x={660} y={258.3} w={12} h={10} bg={GROUP_COL["NCD_A"]} />
      <Txt x={675} y={263} s={15}>NCD_A</Txt>
      <Box x={706.7} y={280} w={10.6} h={63.3} bg="linear-gradient(to bottom, #ff0000, #800000 25%, #000 50%, #006400 75%, #00c800)" />
      {HEAT_TICKS.map((t, i) => (
        <Txt key={"hf" + i} x={719} y={heatLabF[i]} s={15}>{t}</Txt>
      ))}
      <Box x={663.3} y={526.7} w={10} h={10.6} bg={GROUP_COL["HFD_A+E"]} />
      <Txt x={676} y={532} s={15}>HFD_A+E</Txt>
      <Box x={663.3} y={545} w={10} h={10} bg={GROUP_COL["HFD_A"]} />
      <Txt x={676} y={550} s={15}>HFD_A</Txt>
      <Box x={706.7} y={565} w={10.6} h={61.7} bg="linear-gradient(to bottom, #ff0000, #800000 25%, #000 50%, #006400 75%, #00c800)" />
      {HEAT_TICKS.map((t, i) => (
        <Txt key={"hh" + i} x={719} y={heatLabH[i]} s={15}>{t}</Txt>
      ))}
    </div>
  );
}
